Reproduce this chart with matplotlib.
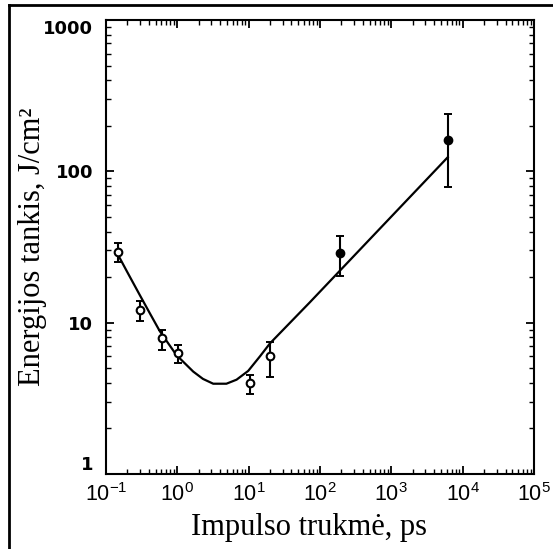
import matplotlib
matplotlib.use('Agg')
import matplotlib.pyplot as plt
from matplotlib.lines import Line2D
import numpy as np

# ---- data ----
point_x = [0.15, 0.30, 0.61, 1.03, 10.4, 19.8, 190, 6200]
point_y = [29.3, 12.2, 7.9, 6.3, 3.98, 6.0, 29, 160]
err_low = [25.3, 10.3, 6.6, 5.4, 3.4, 4.4, 20.3, 78.6]
err_high = [33.8, 13.8, 9.0, 7.1, 4.5, 7.4, 37.2, 240]
point_filled = [False, False, False, False, False, False, True, True]

curve_x = [0.15, 0.2, 0.3, 0.42, 0.57, 0.75, 0.98, 1.3, 1.68, 2.3, 3.2,
           4.9, 6.8, 9.9, 14.5, 20, 72, 6200]
curve_y = [27.8, 21.6, 15.2, 11.4, 8.8, 7.3, 6.1, 5.35, 4.75, 4.25, 3.95,
           3.95, 4.2, 4.8, 6.0, 7.3, 13.6, 124]

x_ticks = [1e-1, 1e0, 1e1, 1e2, 1e3, 1e4, 1e5]
x_tick_labels = ['$10^{-1}$', '$10^{0}$', '$10^{1}$', '$10^{2}$',
                 '$10^{3}$', '$10^{4}$', '$10^{5}$']
y_ticks = [1, 10, 100, 1000]
y_tick_labels = ['1', '10', '100', '1000']

x_label = 'Impulso trukmė, ps'
y_label = 'Energijos tankis, J/cm²'

# ---- styling ----
plt.rcParams['mathtext.fontset'] = 'custom'
plt.rcParams['mathtext.rm'] = 'Liberation Sans'
plt.rcParams['mathtext.it'] = 'Liberation Sans'
plt.rcParams['mathtext.bf'] = 'Liberation Sans:bold'

fig = plt.figure(figsize=(5.53, 5.49), dpi=100)
ax = fig.add_axes([0.1913, 0.1366, 0.7743, 0.8270])
ax.set_xscale('log')
ax.set_yscale('log')
ax.set_xlim(1e-1, 1e5)
ax.set_ylim(1, 1000)

# fitted curve
ax.plot(curve_x, curve_y, color='k', lw=1.6, solid_joinstyle='round')

# error bars
px = np.array(point_x)
py = np.array(point_y)
lo = np.array(err_low)
hi = np.array(err_high)
ax.errorbar(px, py, yerr=[py - lo, hi - py], fmt='none', ecolor='k',
            elinewidth=1.5, capsize=3, capthick=1.4)

for x, y, f in zip(point_x, point_y, point_filled):
    ax.plot([x], [y], 'o', ms=5.5, mec='k', mew=1.5,
            mfc='k' if f else 'white', zorder=5)

for s in ax.spines.values():
    s.set_linewidth(1.5)

ax.tick_params(which='both', direction='in', top=True, right=True)
ax.tick_params(which='major', length=6, width=1.3)
ax.tick_params(which='minor', length=3.5, width=1.0)

ax.set_xticks(x_ticks)
ax.set_xticklabels(x_tick_labels, fontsize=15.5)
ax.tick_params(axis='x', which='major', pad=6)
ax.set_yticks(y_ticks)
ylabels = ax.set_yticklabels(y_tick_labels, fontsize=13,
                             fontfamily='DejaVu Sans', fontweight='bold')
ylabels[0].set_va('bottom')
ylabels[-1].set_va('top')
ax.tick_params(axis='y', which='major', pad=9)

ax.set_xlabel(x_label, fontsize=22, family='Liberation Serif')
ax.xaxis.label.set_verticalalignment('baseline')
ax.xaxis.set_label_coords(0.475, -0.1344)
ax.set_ylabel(y_label, fontsize=22, family='Liberation Serif')
ax.yaxis.label.set_verticalalignment('baseline')
ax.yaxis.set_label_coords(-0.1537, 0.5)

# partial outer frame (left and top lines)
fig.add_artist(Line2D([9 / 553, 9 / 553], [0, 1 - 5 / 549],
                      transform=fig.transFigure, color='k', lw=2))
fig.add_artist(Line2D([9 / 553, 1], [1 - 5 / 549, 1 - 5 / 549],
                      transform=fig.transFigure, color='k', lw=2))

fig.savefig('out.png', dpi=100)
